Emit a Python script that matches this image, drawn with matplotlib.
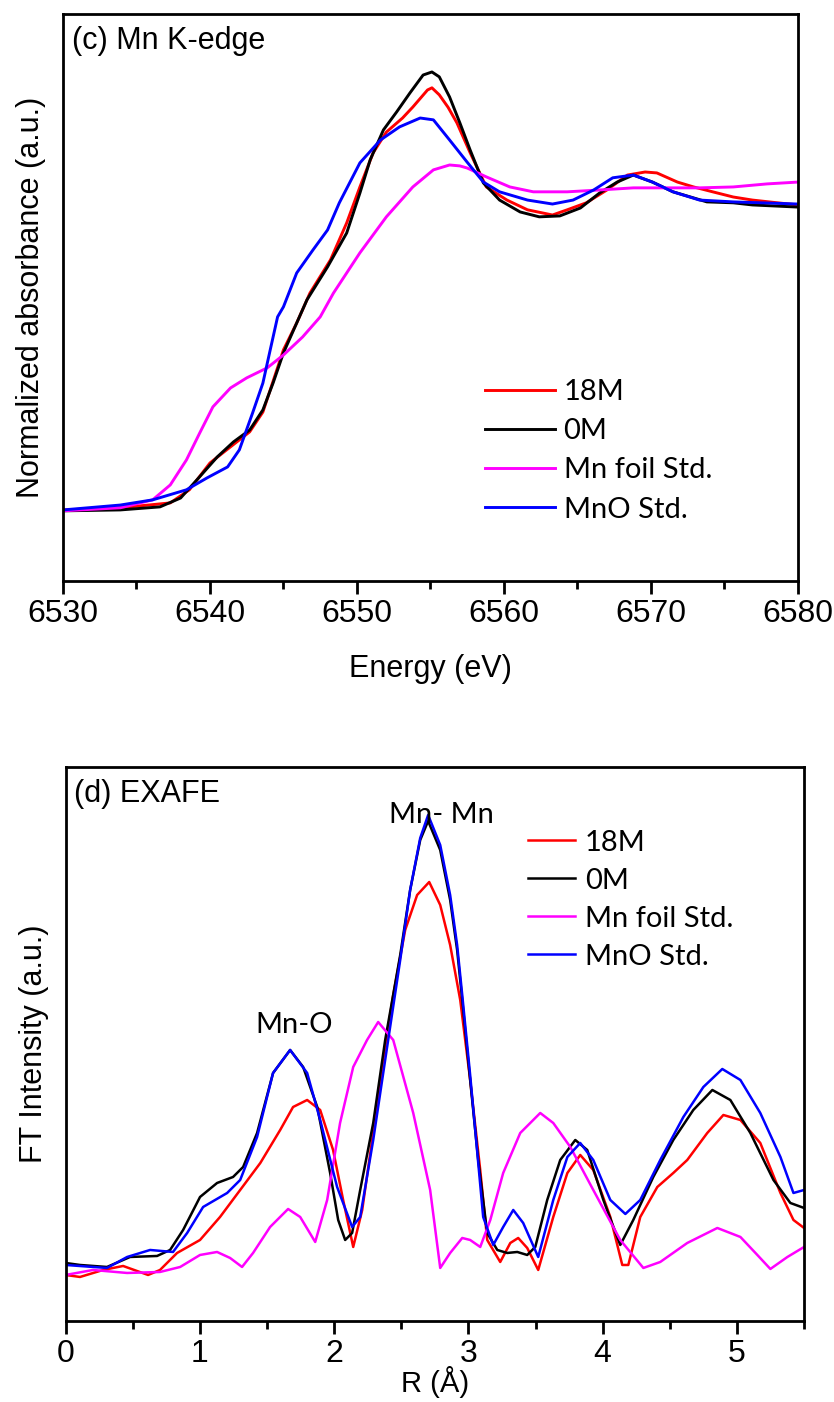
import numpy as np
import matplotlib.pyplot as plt
from matplotlib.ticker import MultipleLocator

plt.rcParams['font.family'] = ['Liberation Sans', 'DejaVu Sans']

# ---- (c) Mn K-edge XANES ----
e_18m = [6530.0, 6533.9, 6537.3, 6538.6, 6540.0, 6541.4, 6542.7, 6543.6, 6545.0, 6545.9,
         6546.8, 6548.2, 6549.3, 6550.2, 6551.1, 6552.0, 6553.1, 6553.8, 6554.8, 6555.1,
         6555.6, 6556.2, 6556.8, 6557.7, 6558.8, 6560.2, 6561.6, 6563.3, 6564.3, 6565.6,
         6567.0, 6568.4, 6569.6, 6570.4, 6571.8, 6572.9, 6574.2, 6575.6, 6576.9, 6578.6, 6580.0]
mu_18m = [0.0, 0.007, 0.023, 0.066, 0.154, 0.207, 0.256, 0.321, 0.525, 0.613,
          0.711, 0.82, 0.941, 1.059, 1.171, 1.239, 1.285, 1.321, 1.377, 1.384,
          1.361, 1.32, 1.269, 1.171, 1.059, 1.016, 0.984, 0.967, 0.984, 1.007,
          1.049, 1.098, 1.108, 1.105, 1.075, 1.059, 1.043, 1.026, 1.016, 1.007, 1.0]

e_0m = [6530.0, 6533.9, 6536.6, 6538.0, 6539.1, 6540.5, 6541.6, 6542.7, 6543.6, 6544.3,
        6545.0, 6545.9, 6546.6, 6548.0, 6549.3, 6550.2, 6550.9, 6551.8, 6552.7, 6553.6,
        6554.5, 6555.1, 6555.6, 6556.3, 6557.0, 6557.7, 6558.6, 6559.7, 6561.1, 6562.4,
        6563.8, 6565.2, 6566.5, 6567.7, 6568.8, 6570.1, 6571.5, 6572.9, 6573.8, 6575.6,
        6576.9, 6580.0]
mu_0m = [-0.003, 0.0, 0.01, 0.039, 0.098, 0.174, 0.223, 0.262, 0.328, 0.417,
         0.515, 0.613, 0.689, 0.797, 0.908, 1.039, 1.148, 1.246, 1.305, 1.367,
         1.426, 1.436, 1.42, 1.354, 1.269, 1.18, 1.072, 1.016, 0.977, 0.961,
         0.964, 0.99, 1.039, 1.075, 1.098, 1.075, 1.043, 1.023, 1.01, 1.007,
         1.0, 0.993]

e_foil = [6530.0, 6533.9, 6536.1, 6537.3, 6538.4, 6539.3, 6540.2, 6541.4, 6542.5, 6543.9,
          6545.0, 6546.3, 6547.5, 6548.4, 6550.2, 6552.0, 6553.8, 6555.2, 6556.3, 6557.0,
          6557.5, 6558.8, 6560.4, 6562.0, 6564.3, 6566.5, 6568.8, 6573.3, 6575.6, 6577.9, 6580.0]
mu_foil = [-0.003, 0.007, 0.033, 0.082, 0.164, 0.252, 0.338, 0.40, 0.433, 0.466,
           0.508, 0.567, 0.633, 0.711, 0.843, 0.961, 1.059, 1.115, 1.131, 1.128,
           1.121, 1.092, 1.059, 1.043, 1.043, 1.049, 1.056, 1.056, 1.059, 1.069, 1.075]

e_mno = [6530.0, 6533.9, 6536.1, 6538.4, 6539.8, 6541.2, 6542.0, 6542.9, 6543.6, 6544.1,
         6544.6, 6545.0, 6545.9, 6547.0, 6548.0, 6548.8, 6550.2, 6551.6, 6552.9, 6554.3,
         6555.2, 6556.3, 6557.5, 6558.6, 6559.7, 6561.6, 6563.3, 6564.7, 6566.1, 6567.4,
         6568.8, 6570.1, 6571.5, 6573.3, 6575.6, 6580.0]
mu_mno = [0.0, 0.016, 0.033, 0.066, 0.105, 0.141, 0.197, 0.318, 0.416, 0.525,
          0.633, 0.666, 0.777, 0.852, 0.918, 1.007, 1.138, 1.213, 1.256, 1.285,
          1.279, 1.213, 1.14, 1.075, 1.043, 1.016, 1.003, 1.016, 1.049, 1.089,
          1.098, 1.075, 1.043, 1.016, 1.01, 1.003]

# ---- (d) EXAFS Fourier transform ----
r_18m = [0.0, 0.107, 0.279, 0.428, 0.614, 0.703, 0.83, 1.001, 1.15, 1.3, 1.45, 1.598, 1.694,
         1.799, 1.896, 1.992, 2.067, 2.142, 2.209, 2.283, 2.365, 2.44, 2.529, 2.618, 2.708,
         2.79, 2.864, 2.939, 3.013, 3.088, 3.14, 3.237, 3.312, 3.371, 3.438, 3.52, 3.632,
         3.737, 3.833, 3.93, 4.057, 4.146, 4.191, 4.28, 4.407, 4.526, 4.63, 4.779, 4.899,
         5.026, 5.174, 5.324, 5.421, 5.5]
ft_18m = [0.46, 0.44, 0.51, 0.55, 0.46, 0.51, 0.68, 0.81, 1.04, 1.31, 1.58, 1.91, 2.14,
          2.21, 2.11, 1.71, 1.21, 0.74, 1.11, 1.81, 2.61, 3.26, 3.91, 4.26, 4.39,
          4.16, 3.76, 3.21, 2.41, 1.51, 0.81, 0.59, 0.78, 0.83, 0.73, 0.51, 1.04,
          1.48, 1.66, 1.51, 1.04, 0.56, 0.56, 1.04, 1.34, 1.48, 1.61, 1.88, 2.06,
          2.01, 1.78, 1.28, 1.01, 0.93]

r_0m = [0.0, 0.107, 0.308, 0.48, 0.681, 0.778, 0.875, 1.001, 1.128, 1.247, 1.322, 1.426,
        1.545, 1.672, 1.769, 1.874, 1.97, 2.03, 2.082, 2.134, 2.194, 2.291, 2.38, 2.492,
        2.566, 2.641, 2.7, 2.79, 2.864, 2.916, 2.954, 3.013, 3.073, 3.14, 3.215, 3.289,
        3.364, 3.438, 3.498, 3.587, 3.684, 3.796, 3.885, 4.005, 4.131, 4.228, 4.377,
        4.526, 4.675, 4.817, 4.951, 5.1, 5.272, 5.398, 5.5]
ft_0m = [0.58, 0.56, 0.54, 0.64, 0.65, 0.71, 0.91, 1.24, 1.38, 1.44, 1.54, 1.88,
         2.48, 2.71, 2.54, 2.14, 1.48, 1.01, 0.81, 0.88, 1.31, 1.98, 2.81, 3.66,
         4.31, 4.81, 5.0, 4.71, 4.21, 3.71, 3.21, 2.41, 1.61, 0.88, 0.71, 0.68,
         0.69, 0.66, 0.74, 1.21, 1.61, 1.81, 1.71, 1.21, 0.76, 1.01, 1.44,
         1.81, 2.11, 2.31, 2.21, 1.88, 1.41, 1.18, 1.13]

r_foil = [0.0, 0.204, 0.458, 0.703, 0.853, 1.001, 1.128, 1.225, 1.314, 1.396, 1.523, 1.657,
          1.747, 1.859, 1.948, 2.044, 2.142, 2.245, 2.328, 2.44, 2.589, 2.715, 2.79, 2.864,
          2.954, 3.013, 3.088, 3.163, 3.259, 3.386, 3.535, 3.632, 3.759, 3.93, 4.131, 4.303,
          4.429, 4.63, 4.854, 5.026, 5.152, 5.249, 5.376, 5.5]
ft_foil = [0.46, 0.51, 0.48, 0.49, 0.54, 0.66, 0.69, 0.63, 0.54, 0.68, 0.94, 1.12,
           1.04, 0.79, 1.21, 1.98, 2.54, 2.81, 2.99, 2.81, 2.08, 1.31, 0.53, 0.68,
           0.83, 0.81, 0.74, 1.01, 1.48, 1.88, 2.08, 1.98, 1.74, 1.31, 0.81, 0.53,
           0.59, 0.78, 0.93, 0.84, 0.66, 0.52, 0.64, 0.74]

r_mno = [0.0, 0.308, 0.458, 0.629, 0.8, 0.905, 1.024, 1.203, 1.3, 1.426, 1.545, 1.672,
         1.799, 1.896, 2.022, 2.134, 2.194, 2.291, 2.38, 2.492, 2.566, 2.641, 2.7, 2.79,
         2.864, 2.916, 2.954, 3.013, 3.11, 3.185, 3.259, 3.334, 3.408, 3.52, 3.632, 3.737,
         3.833, 3.93, 4.057, 4.169, 4.28, 4.429, 4.601, 4.75, 4.891, 5.026, 5.174, 5.324,
         5.421, 5.5]
ft_mno = [0.56, 0.53, 0.64, 0.71, 0.69, 0.88, 1.14, 1.28, 1.41, 1.84, 2.48, 2.71,
          2.48, 2.01, 1.34, 0.94, 1.04, 1.81, 2.61, 3.61, 4.31, 4.83, 5.06, 4.76,
          4.26, 3.76, 3.26, 2.46, 1.04, 0.76, 0.94, 1.11, 0.98, 0.64, 1.21, 1.64,
          1.78, 1.61, 1.21, 1.07, 1.21, 1.61, 2.04, 2.34, 2.52, 2.41, 2.08, 1.64,
          1.28, 1.31]

labels = ['18M', '0M', 'Mn foil Std.', 'MnO Std.']
colors = ['#ff0000', '#000000', '#ff00ff', '#0000ff']

fig = plt.figure(figsize=(8.34, 14.02), dpi=100)
ax1 = fig.add_axes([0.0755, 0.5856, 0.8813, 0.4044])
ax2 = fig.add_axes([0.0787, 0.0578, 0.8854, 0.3951])

fs = 22      # axis labels / panel titles
tfs = 23     # tick labels
leg_font = {'family': ['Lato', 'DejaVu Sans'], 'size': 21}

xanes = [(e_18m, mu_18m), (e_0m, mu_0m), (e_foil, mu_foil), (e_mno, mu_mno)]
for (x, y), c, lab in zip(xanes, colors, labels):
    ax1.plot(x, y, color=c, lw=2.1, label=lab)
ax1.set_xlim(6530, 6580)
ax1.set_ylim(-0.233, 1.626)
ax1.xaxis.set_major_locator(MultipleLocator(10))
ax1.xaxis.set_minor_locator(MultipleLocator(5))
ax1.set_xlabel('Energy (eV)', fontsize=fs, labelpad=18)
ax1.set_ylabel('Normalized absorbance (a.u.)', fontsize=fs, labelpad=12)
ax1.text(0.012, 0.978, '(c) Mn K-edge', transform=ax1.transAxes, fontsize=fs, va='top')
ax1.legend(loc='upper left', bbox_to_anchor=(0.574, 0.356), frameon=False, prop=leg_font,
           handlelength=2.4, handletextpad=0.3, labelspacing=0.45, borderpad=0, borderaxespad=0)

exafs = [(r_18m, ft_18m), (r_0m, ft_0m), (r_foil, ft_foil), (r_mno, ft_mno)]
for (x, y), c, lab in zip(exafs, colors, labels):
    ax2.plot(x, y, color=c, lw=1.8, label=lab)
ax2.set_xlim(0, 5.5)
ax2.set_ylim(0, 5.54)
ax2.xaxis.set_major_locator(MultipleLocator(1))
ax2.xaxis.set_minor_locator(MultipleLocator(0.5))
ax2.set_xlabel('R (Å)', fontsize=21, labelpad=-2)
ax2.set_ylabel('FT Intensity (a.u.)', fontsize=fs, labelpad=12)
ax2.text(0.011, 0.978, '(d) EXAFE', transform=ax2.transAxes, fontsize=fs, va='top')
ax2.text(2.8, 4.98, 'Mn- Mn', fontdict=leg_font, ha='center', va='baseline')
ax2.text(1.7, 2.88, 'Mn-O', fontdict=leg_font, ha='center', va='baseline')
ax2.legend(loc='upper left', bbox_to_anchor=(0.626, 0.887), frameon=False, prop=leg_font,
           handlelength=1.6, handletextpad=0.35, labelspacing=0.41, borderpad=0, borderaxespad=0)

for ax in (ax1, ax2):
    ax.set_yticks([])
    for s in ax.spines.values():
        s.set_linewidth(2.0)
    ax.tick_params(axis='x', which='major', direction='out', length=9, width=2.0,
                   labelsize=tfs, pad=4)
    ax.tick_params(axis='x', which='minor', direction='out', length=6, width=2.0)

fig.savefig('out.png', dpi=100)
